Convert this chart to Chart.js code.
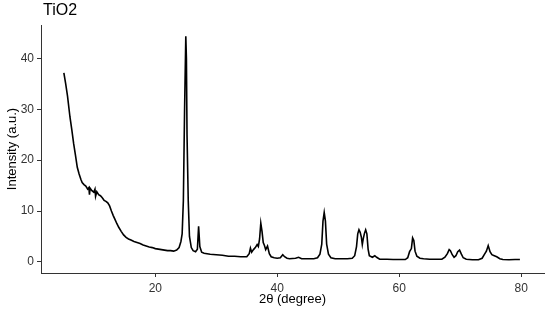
<!DOCTYPE html>
<html>
<head>
<meta charset="utf-8">
<script src="https://cdn.jsdelivr.net/npm/chart.js@4/dist/chart.umd.min.js"></script>
<style>
  html, body { margin: 0; padding: 0; background: #fff; }
  #wrap { width: 550px; height: 311px; position: relative; }
</style>
</head>
<body>
<div id="wrap"><canvas id="chartXrd"></canvas></div>
<script>
// 2θ positions (degree) and intensities (a.u.)
const twoTheta = [
    5.0, 5.3, 5.6, 6.0, 6.3, 6.6, 6.9, 7.2, 7.5, 7.8, 8.0, 8.3, 8.6, 8.9, 9.1, 9.2, 9.3, 9.6, 9.9, 10.1,
    10.2, 10.4, 10.7, 11.0, 11.3, 11.6, 11.9, 12.2, 12.5, 12.8, 13.1, 13.4, 13.7, 14.0, 14.4, 14.8, 15.2, 15.6, 16.0, 16.5,
    17.0, 17.5, 18.0, 18.5, 19.0, 19.5, 20.0, 20.5, 21.0, 21.5, 22.0, 22.5, 23.0, 23.5, 23.9, 24.2, 24.4, 24.6, 24.8, 25.0,
    25.1, 25.2, 25.4, 25.6, 25.9, 26.2, 26.6, 26.9, 27.1, 27.3, 27.6, 28, 29, 30, 31, 32, 33, 34, 35, 35.4,
    35.6, 35.8, 36.1, 36.4, 36.7, 36.9, 37.1, 37.3, 37.5, 37.7, 37.9, 38.1, 38.4, 38.7, 39.0, 39.5, 40.0, 40.5, 40.9, 41.2,
    41.6, 42, 43, 43.5, 44, 45, 46, 46.6, 47.0, 47.3, 47.5, 47.7, 47.9, 48.1, 48.4, 48.8, 49.5, 50.5, 51.5, 52.3,
    52.7, 53.0, 53.2, 53.4, 53.6, 53.8, 53.95, 54.1, 54.3, 54.5, 54.7, 54.9, 55.1, 55.6, 56.0, 56.3, 56.8, 58, 59, 60,
    61, 61.4, 61.7, 62.0, 62.2, 62.4, 62.6, 62.9, 63.4, 64, 65, 66, 67, 67.5, 67.9, 68.2, 68.4, 68.7, 69.0, 69.3,
    69.6, 69.9, 70.2, 70.5, 71, 72, 73, 73.6, 74.0, 74.3, 74.6, 74.9, 75.2, 75.6, 76.0, 76.5, 77, 78, 79, 79.8
];
const intensity = [
    37.2, 35.0, 32.6, 28.5, 26.0, 23.3, 21.0, 18.6, 17.3, 16.2, 15.6, 15.2, 14.9, 14.3, 14.6, 13.2, 14.5, 14.0, 13.7, 14.3,
    12.9, 13.8, 13.2, 13.0, 12.6, 12.1, 11.9, 11.6, 11.0, 10.0, 9.1, 8.3, 7.5, 6.8, 6.0, 5.3, 4.8, 4.5, 4.3, 4.0,
    3.8, 3.6, 3.3, 3.1, 2.9, 2.8, 2.6, 2.5, 2.4, 2.3, 2.2, 2.2, 2.1, 2.3, 2.8, 4.0, 5.5, 12.0, 30.0, 44.4,
    40.0, 25.0, 12.0, 5.0, 2.8, 2.2, 2.0, 2.5, 7.0, 3.0, 1.9, 1.7, 1.5, 1.4, 1.3, 1.1, 1.1, 1.0, 1.0, 1.6,
    2.7, 1.9, 2.4, 2.8, 3.4, 3.0, 4.5, 7.6, 6.0, 3.8, 3.2, 2.4, 3.1, 1.6, 1.0, 0.8, 0.7, 0.8, 1.4, 1.0,
    0.7, 0.6, 0.7, 0.9, 0.6, 0.6, 0.6, 0.8, 1.5, 3.5, 8.0, 9.7, 8.0, 3.5, 1.5, 0.8, 0.6, 0.6, 0.6, 0.7,
    1.2, 3.0, 5.5, 6.3, 5.8, 4.8, 3.4, 4.5, 5.6, 6.3, 5.5, 2.5, 1.2, 0.9, 1.2, 0.9, 0.5, 0.5, 0.45, 0.45,
    0.45, 0.8, 2.0, 2.6, 4.7, 4.2, 2.1, 1.1, 0.7, 0.6, 0.5, 0.5, 0.5, 0.9, 1.6, 2.4, 2.2, 1.4, 0.9, 1.2,
    2.0, 2.3, 1.5, 0.8, 0.5, 0.4, 0.4, 0.7, 1.5, 2.1, 3.2, 2.0, 1.4, 1.2, 1.0, 0.6, 0.45, 0.4, 0.45, 0.45
];
const xTicks = [20, 40, 60, 80];
const yTicks = [0, 10, 20, 30, 40];

const tickColor = "#333333";
const axisColor = "#333333";
const fontFamily = "'Liberation Sans', Arial, sans-serif";

const titlePlugin = {
    id: "plotTitle",
    afterDraw(chart) {
        const ctx = chart.ctx;
        ctx.save();
        ctx.font = "16px " + fontFamily;
        ctx.fillStyle = "#000";
        ctx.textBaseline = "middle";
        ctx.textAlign = "left";
        ctx.fillText("TiO2", 43, 11);
        ctx.restore();
    }
};

new Chart(document.getElementById("chartXrd"), {
    type: "line",
    data: {
        datasets: [{
            data: twoTheta.map((x, i) => ({ x: x, y: intensity[i] })),
            borderColor: "#000",
            borderWidth: 1.6,
            pointRadius: 0,
            tension: 0,
            fill: false
        }]
    },
    options: {
        responsive: true,
        maintainAspectRatio: false,
        animation: false,
        layout: { padding: { top: 25, right: 6, left: 0, bottom: 0 } },
        plugins: {
            legend: { display: false },
            tooltip: { enabled: false }
        },
        scales: {
            x: {
                type: "linear",
                min: 1.25,
                max: 83.75,
                afterBuildTicks: s => { s.ticks = xTicks.map(v => ({ value: v })); },
                afterFit: s => { s.height = 38; },
                grid: { drawOnChartArea: false, drawTicks: true, tickLength: 4, color: axisColor },
                border: { display: true, color: axisColor, width: 1 },
                ticks: { color: tickColor, font: { size: 12, family: fontFamily }, padding: 4, maxRotation: 0 },
                title: { display: true, text: "2θ (degree)", color: "#000", font: { size: 13, family: fontFamily }, padding: { top: 0, bottom: 4 } }
            },
            y: {
                min: -2.2,
                max: 46.6,
                afterBuildTicks: s => { s.ticks = yTicks.map(v => ({ value: v })); },
                afterFit: s => { s.width = 41; },
                grid: { drawOnChartArea: false, drawTicks: true, tickLength: 4, color: axisColor },
                border: { display: true, color: axisColor, width: 1 },
                ticks: { color: tickColor, font: { size: 12, family: fontFamily }, padding: 3 },
                title: { display: true, text: "Intensity (a.u.)", color: "#000", font: { size: 13, family: fontFamily }, padding: { top: 5, bottom: 0 } }
            }
        }
    },
    plugins: [titlePlugin]
});
</script>
</body>
</html>
